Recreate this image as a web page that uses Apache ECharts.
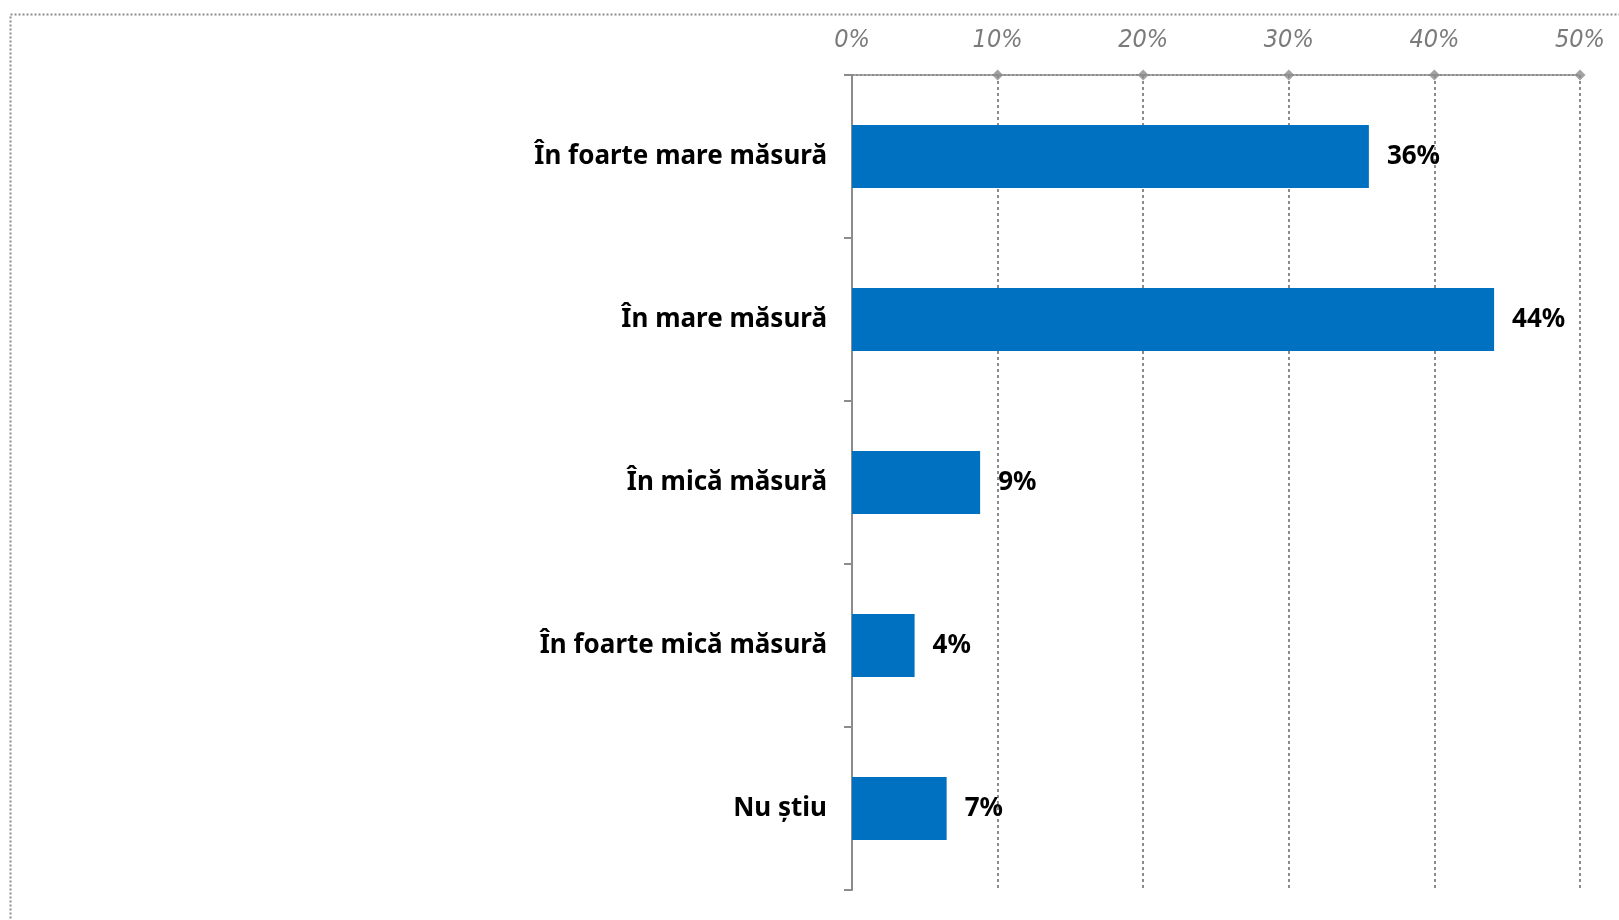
<!DOCTYPE html>
<html>
<head>
<meta charset="utf-8">
<script src="https://cdn.jsdelivr.net/npm/echarts@6/dist/echarts.min.js"></script>
<style>html,body{margin:0;padding:0;background:#fff}#c{width:1619px;height:920px}</style>
</head>
<body>
<div id="c"></div>
<script>
const categories = ["În foarte mare măsură", "În mare măsură", "În mică măsură", "În foarte mică măsură", "Nu știu"];
const values = [35.5, 44.1, 8.8, 4.3, 6.5];
const tickValues = [0, 10, 20, 30, 40, 50];

const chart = echarts.init(document.getElementById('c'));
chart.setOption({
  animation: false,
  backgroundColor: '#fff',
  graphic: [{
    type: 'rect', left: 8, top: 12, silent: true,
    shape: { width: 1700, height: 1000 },
    style: { fill: 'none', stroke: '#8c8c8c', lineWidth: 2, lineDash: [2, 2] }
  }],
  grid: { left: 852, right: 39, top: 75, bottom: 30, containLabel: false },
  xAxis: {
    type: 'value', position: 'top', min: 0, max: 50, interval: 10,
    axisLine: { show: true, onZero: false, lineStyle: { color: '#8c8c8c', width: 2, type: [2, 2] } },
    axisTick: { show: false },
    splitLine: { show: true, lineStyle: { color: '#8c8c8c', width: 2, type: [3, 3] } },
    axisLabel: {
      margin: 22, formatter: '{value}%', color: '#7a7a7a', fontSize: 25,
      fontStyle: 'italic', fontFamily: '"Liberation Sans Narrow", "DejaVu Sans Condensed", sans-serif'
    }
  },
  yAxis: [{
    type: 'category', data: categories, inverse: true,
    axisLine: { show: true, onZero: false, lineStyle: { color: '#8c8c8c', width: 2 } },
    axisTick: { show: true, length: 8, lineStyle: { color: '#8c8c8c', width: 2 } },
    axisLabel: { margin: 25, color: '#000', fontSize: 26, fontWeight: 'bold', fontFamily: '"Noto Sans", sans-serif', padding: [6, 0, 0, 0] }
  }, {
    type: 'value', min: 0, max: 1, show: false
  }],
  series: [{
    type: 'bar', data: values, barWidth: '38.6%',
    itemStyle: { color: '#0070C0' },
    label: {
      show: true, position: 'right', distance: 18, color: '#000', fontSize: 26, fontWeight: 'bold',
      fontFamily: '"Noto Sans", sans-serif', padding: [6, 0, 0, 0],
      formatter: p => Math.round(p.value) + '%'
    }
  }, {
    type: 'scatter', yAxisIndex: 1, symbol: 'diamond', symbolSize: 11,
    itemStyle: { color: '#8c8c8c' }, silent: true,
    data: tickValues.slice(1).map(v => [v, 1])
  }]
});
</script>
</body>
</html>
